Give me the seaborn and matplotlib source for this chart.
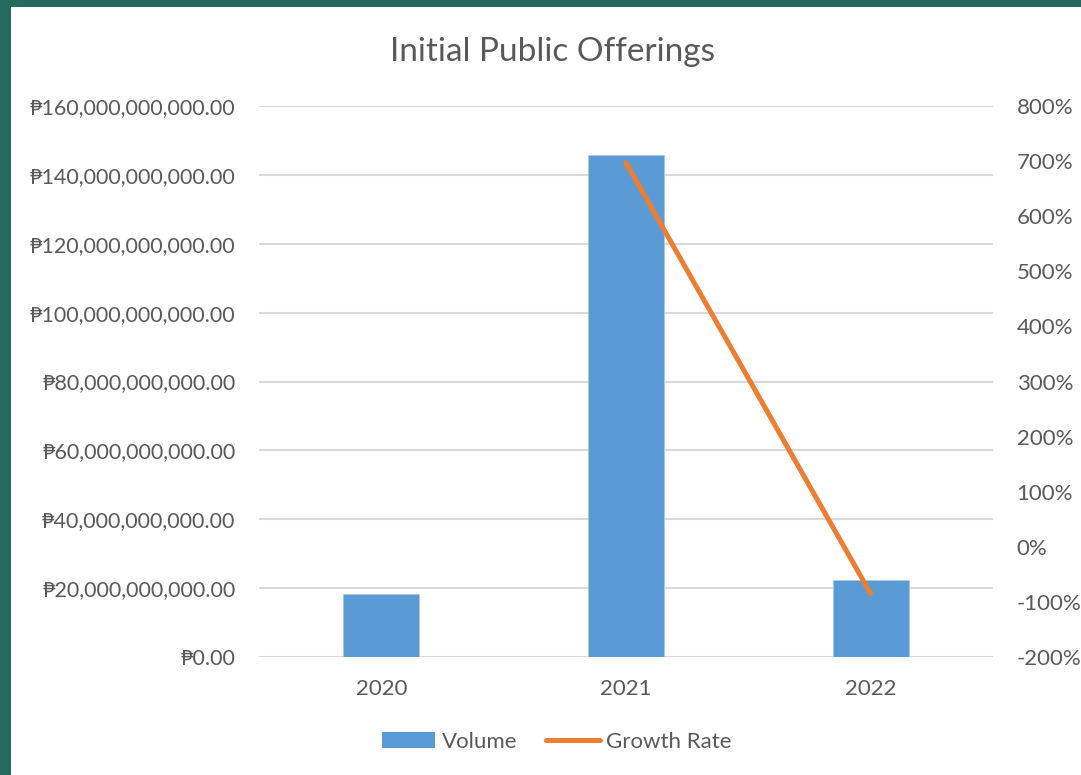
import numpy as np
import pandas as pd
import matplotlib
matplotlib.use("Agg")
import matplotlib.pyplot as plt
from matplotlib.patches import Rectangle, Patch
from matplotlib.lines import Line2D
from matplotlib.ticker import FuncFormatter, MultipleLocator
import seaborn as sns

# ---- data ----
years = ["2020", "2021", "2022"]
volume = [18.3e9, 145.8e9, 22.4e9]
growth_years = ["2021", "2022"]
growth_rate = [697, -85]  # percent

title = "Initial Public Offerings"
bar_color = "#5B9BD5"
line_color = "#ED7D31"
text_color = "#595959"
grid_color = "#D9D9D9"

sns.set_theme(style="white")
plt.rcParams["font.family"] = ["Lato", "DejaVu Sans"]

FS = 16
W, H = 1081, 775
fig = plt.figure(figsize=(W / 100, H / 100), dpi=100)
fig.patch.set_facecolor("#25695F")
bg = Rectangle((11 / W, 0), 1 - 11 / W, 1 - 7 / H, transform=fig.transFigure,
               facecolor="white", edgecolor="none", zorder=-10)
fig.add_artist(bg)

ax = fig.add_axes([259 / W, 1 - 657 / H, (993 - 259) / W, (657 - 106) / H])
ax.set_facecolor("none")

df = pd.DataFrame({"Year": years, "Volume": volume})
sns.barplot(data=df, x="Year", y="Volume", color=bar_color, saturation=1,
            width=0.31, ax=ax, zorder=3, edgecolor="#A9C8E8", linewidth=0.6)

ax.set_ylim(0, 160e9)
ax.set_xlim(-0.5, 2.5)
ax.yaxis.set_major_locator(MultipleLocator(20e9))
ax.yaxis.set_major_formatter(FuncFormatter(lambda v, p: f"\u20B1{v:,.2f}"))
ax.grid(axis="y", color=grid_color, linewidth=1.5, zorder=0)
ax.grid(axis="x", visible=False)
ax.set_axisbelow(True)
for s in ax.spines.values():
    s.set_visible(False)
ax.set_xlabel("")
ax.set_ylabel("")
ax.tick_params(axis="y", length=0, pad=17, labelsize=15.5, labelcolor=text_color)
ax.tick_params(axis="x", length=0, pad=16, labelsize=FS, labelcolor=text_color)

ax2 = ax.twinx()
gx = [years.index(y) for y in growth_years]
sns.lineplot(x=gx, y=growth_rate, ax=ax2, color=line_color, linewidth=3.6,
             solid_capstyle="round", zorder=4)
ax2.set_ylim(-200, 800)
ax2.yaxis.set_major_locator(MultipleLocator(100))
ax2.yaxis.set_major_formatter(FuncFormatter(lambda v, p: f"{v:.0f}%"))
ax2.tick_params(axis="y", length=0, pad=17, labelsize=FS, labelcolor=text_color)
ax2.grid(False)
for s in ax2.spines.values():
    s.set_visible(False)
ax2.set_ylabel("")
ax2.set_xlim(-0.5, 2.5)

fig.text(553 / W, 1 - 52 / H, title, ha="center", va="center",
         fontsize=24, color=text_color)

handles = [Patch(facecolor=bar_color, edgecolor="none"),
           Line2D([0], [0], color=line_color, linewidth=3.6, solid_capstyle="round")]
fig.legend(handles, ["Volume", "Growth Rate"], loc="center",
           bbox_to_anchor=(557 / W, 1 - 742 / H), ncol=2, frameon=False,
           fontsize=FS, labelcolor=text_color, handlelength=2.4,
           handletextpad=0.3, columnspacing=1.3, handleheight=0.7)

fig.savefig("out.png", dpi=100, facecolor=fig.get_facecolor())
